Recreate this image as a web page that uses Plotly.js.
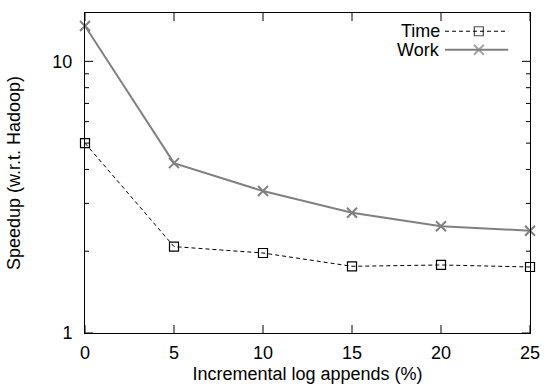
<!DOCTYPE html>
<html>
<head>
<meta charset="utf-8">
<script src="https://cdn.plot.ly/plotly-3.0.1.min.js"></script>
<style>html,body{margin:0;padding:0;background:#fff;}#chart{width:545px;height:390px;}</style>
</head>
<body>
<div id="chart"></div>
<script>
const appends = [0, 5, 10, 15, 20, 25];
const timeSpeedup = [5.0, 2.08, 1.97, 1.76, 1.78, 1.75];
const workSpeedup = [13.5, 4.22, 3.33, 2.77, 2.47, 2.38];
const xTicks = [0, 5, 10, 15, 20, 25];
const yMajorTicks = [1, 10];
const yMinorTicks = [2, 3, 4, 5, 6, 7, 8, 9];
const seriesNames = ['Time', 'Work'];

const FONT = 'Liberation Sans, Arial, Helvetica, sans-serif';
const timeStyle = {color: '#000000', width: 1, dash: '4px,3px'};
const workStyle = {color: '#808080', width: 2};
const timeMarker = {symbol: 'square-open', size: 9, color: '#000000', line: {color: '#000000', width: 1.2}};
const workMarker = {symbol: 'x-thin-open', size: 10, color: '#808080', line: {color: '#808080', width: 2}};

const traces = [
  {x: appends, y: timeSpeedup, type: 'scatter', mode: 'lines+markers', name: seriesNames[0],
   line: timeStyle, marker: timeMarker, showlegend: false, cliponaxis: false},
  {x: appends, y: workSpeedup, type: 'scatter', mode: 'lines+markers', name: seriesNames[1],
   line: workStyle, marker: workMarker, showlegend: false, cliponaxis: false},
  // custom gnuplot-style legend samples (paper-like overlay axes)
  {x: [0.809, 0.885, 0.951], y: [0.943, 0.943, 0.943], xaxis: 'x2', yaxis: 'y2', type: 'scatter',
   mode: 'lines+markers', line: timeStyle,
   marker: Object.assign({}, timeMarker, {size: [0, 9, 0]}), showlegend: false, hoverinfo: 'skip', cliponaxis: false},
  {x: [0.809, 0.885, 0.951], y: [0.885, 0.885, 0.885], xaxis: 'x2', yaxis: 'y2', type: 'scatter',
   mode: 'lines+markers', line: workStyle,
   marker: Object.assign({}, workMarker, {size: [0, 10, 0]}), showlegend: false, hoverinfo: 'skip', cliponaxis: false}
];

// gnuplot-style inward tick marks on all four sides (drawn as shapes)
const tickLine = {color: '#000000', width: 1};
const shapes = [];
xTicks.forEach(function (v) {
  shapes.push({type: 'line', xref: 'x', x0: v, x1: v, yref: 'paper', ysizemode: 'pixel', yanchor: 0, y0: 0, y1: 8, line: tickLine, layer: 'above'});
  shapes.push({type: 'line', xref: 'x', x0: v, x1: v, yref: 'paper', ysizemode: 'pixel', yanchor: 1, y0: 0, y1: -8, line: tickLine, layer: 'above'});
});
function yTick(v, len) {
  shapes.push({type: 'line', yref: 'y', y0: v, y1: v, xref: 'paper', xsizemode: 'pixel', xanchor: 0, x0: 0, x1: len, line: tickLine, layer: 'above'});
  shapes.push({type: 'line', yref: 'y', y0: v, y1: v, xref: 'paper', xsizemode: 'pixel', xanchor: 1, x0: 0, x1: -len, line: tickLine, layer: 'above'});
}
yMajorTicks.forEach(function (v) { yTick(v, 8); });
yMinorTicks.forEach(function (v) { yTick(v, 4); });

const layout = {
  width: 545, height: 390,
  margin: {l: 85, r: 15, t: 12.5, b: 56.5, pad: 0},
  paper_bgcolor: '#ffffff', plot_bgcolor: '#ffffff',
  font: {family: FONT, size: 18, color: '#000000'},
  showlegend: false,
  xaxis: {
    range: [0, 25], tickvals: xTicks, ticktext: xTicks.map(String),
    ticks: '', showline: true, linecolor: '#000', linewidth: 1, mirror: true,
    showgrid: false, zeroline: false, ticklabelstandoff: 3,
    tickfont: {family: FONT, size: 18},
    title: {text: 'Incremental log appends (%)', font: {family: FONT, size: 18}, standoff: 5}
  },
  yaxis: {
    type: 'log', range: [0, 1.178], tickvals: yMajorTicks, ticktext: yMajorTicks.map(String),
    ticks: '', showline: true, linecolor: '#000', linewidth: 1, mirror: true,
    showgrid: false, zeroline: false, ticklabelstandoff: 8,
    tickfont: {family: FONT, size: 18},
    title: {text: 'Speedup (w.r.t. Hadoop)', font: {family: FONT, size: 18}, standoff: 27}
  },
  xaxis2: {overlaying: 'x', range: [0, 1], visible: false, fixedrange: true},
  yaxis2: {overlaying: 'y', range: [0, 1], visible: false, fixedrange: true},
  shapes: shapes,
  annotations: [
    {xref: 'paper', yref: 'paper', x: 0.802, y: 0.943, xanchor: 'right', yanchor: 'middle',
     text: seriesNames[0], showarrow: false, font: {family: FONT, size: 18, color: '#000'}},
    {xref: 'paper', yref: 'paper', x: 0.802, y: 0.885, xanchor: 'right', yanchor: 'middle',
     text: seriesNames[1], showarrow: false, font: {family: FONT, size: 18, color: '#000'}}
  ]
};

Plotly.newPlot('chart', traces, layout, {staticPlot: true, displayModeBar: false});
</script>
</body>
</html>
